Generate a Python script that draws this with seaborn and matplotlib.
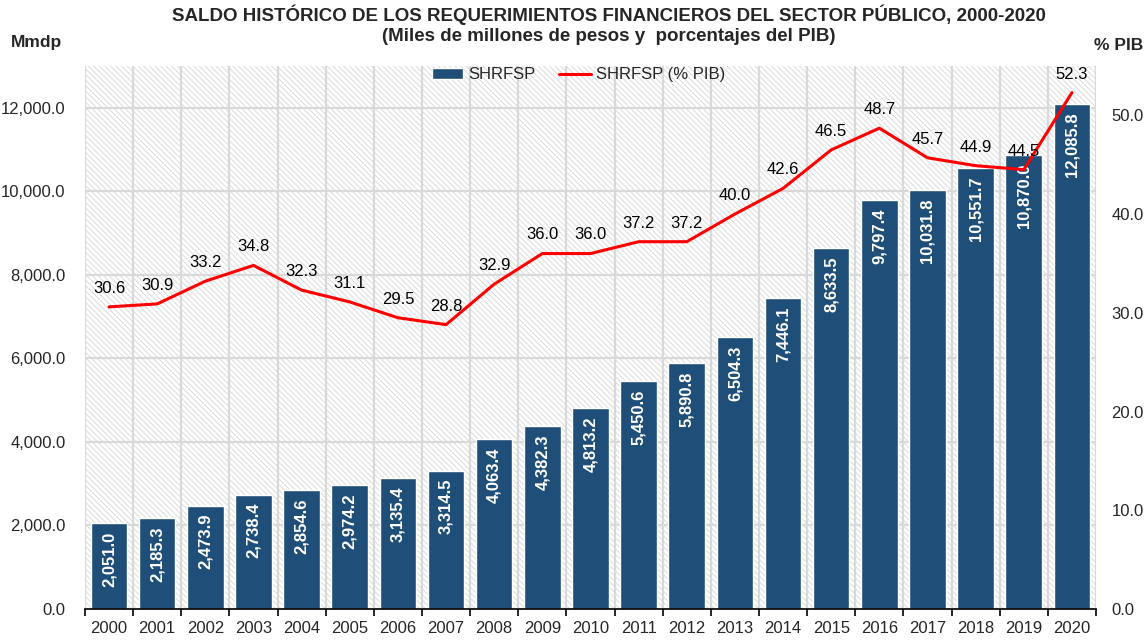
import numpy as np
import pandas as pd
import matplotlib
matplotlib.use("Agg")
import matplotlib.pyplot as plt
from matplotlib.patches import Rectangle
from matplotlib.ticker import FuncFormatter, FixedLocator
import seaborn as sns

years = ['2000', '2001', '2002', '2003', '2004', '2005', '2006', '2007', '2008', '2009', '2010',
         '2011', '2012', '2013', '2014', '2015', '2016', '2017', '2018', '2019', '2020']
shrfsp = [2051.0, 2185.3, 2473.9, 2738.4, 2854.6, 2974.2, 3135.4, 3314.5, 4063.4, 4382.3, 4813.2,
          5450.6, 5890.8, 6504.3, 7446.1, 8633.5, 9797.4, 10031.8, 10551.7, 10870.0, 12085.8]
pct_pib = [30.6, 30.9, 33.2, 34.8, 32.3, 31.1, 29.5, 28.8, 32.9, 36.0, 36.0,
           37.2, 37.2, 40.0, 42.6, 46.5, 48.7, 45.7, 44.9, 44.5, 52.3]

BAR = '#1F4E79'
GRID = '#D9D9D9'

df = pd.DataFrame({'Año': years, 'SHRFSP': shrfsp, 'PIB': pct_pib})
df['pos'] = np.arange(len(df))

sns.set_style('white')
plt.rcParams['font.family'] = ['Liberation Sans', 'DejaVu Sans']
plt.rcParams['hatch.linewidth'] = 0.6

fig = plt.figure(figsize=(11.48, 6.43), dpi=100)
ax = fig.add_axes([0.074, 0.0529, 0.8807, 0.8445])

# hatched plot background
ax.add_patch(Rectangle((0, 0), 1, 1, transform=ax.transAxes, facecolor='white',
                       edgecolor='#d6d6d6', hatch='\\\\\\\\\\\\', linewidth=0, zorder=0))

sns.barplot(data=df, x='Año', y='SHRFSP', color=BAR, saturation=1, width=0.76,
            ax=ax, zorder=2, label='SHRFSP', legend=False)

ax.set_xlim(-0.5, len(years) - 0.5)
ax.set_ylim(0, 13000)
ax.set_yticks(range(0, 12001, 2000))
ax.yaxis.set_major_formatter(FuncFormatter(lambda v, p: f'{v:,.1f}'))
ax.xaxis.set_minor_locator(FixedLocator(np.arange(-0.5, len(years), 1)))
ax.set_axisbelow(True)
ax.grid(True, axis='y', which='major', color=GRID, lw=1.6, zorder=0.5)
ax.grid(True, axis='x', which='minor', color=GRID, lw=1.6, zorder=0.5)
ax.grid(False, axis='x', which='major')
ax.set_xlabel('')
ax.set_ylabel('')
ax.tick_params(axis='x', which='major', length=0, pad=9, labelsize=12)
ax.tick_params(axis='x', which='minor', length=5, width=1.2, color='black', direction='out',
               bottom=True)
ax.tick_params(axis='y', length=0, pad=14, labelsize=12)
for s in ['left', 'right', 'top']:
    ax.spines[s].set_visible(False)
ax.spines['bottom'].set_color('black')
ax.spines['bottom'].set_linewidth(1.2)
ax.spines['bottom'].set_zorder(5)
if ax.get_legend():
    ax.get_legend().remove()

for i, v in enumerate(shrfsp):
    ax.annotate(f'{v:,.1f}', (i, v), xytext=(0, -6), textcoords='offset points',
                rotation=90, ha='center', va='top', color='white', fontsize=12,
                fontweight='bold', zorder=3)

ax2 = ax.twinx()
sns.lineplot(data=df, x='pos', y='PIB', color='red', lw=2.2, ax=ax2, label='SHRFSP (% PIB)')
ax2.set_ylim(0, 55)
ax2.set_yticks(range(0, 51, 10))
ax2.yaxis.set_major_formatter(FuncFormatter(lambda v, p: f'{v:.1f}'))
ax2.tick_params(axis='y', length=0, pad=11, labelsize=12)
ax2.set_ylabel('')
ax2.set_xlabel('')
for s in ax2.spines.values():
    s.set_visible(False)
for i, v in enumerate(pct_pib):
    ax2.annotate(f'{v:.1f}', (i, v), xytext=(0, 8), textcoords='offset points',
                 ha='center', va='bottom', fontsize=12, color='black')

h1, l1 = ax.get_legend_handles_labels()
h2, l2 = ax2.get_legend_handles_labels()
if ax2.get_legend():
    ax2.get_legend().remove()
ax2.legend(h1 + h2, l1 + l2, loc='upper center', bbox_to_anchor=(0.488, 1.025), ncol=2,
           frameon=False, fontsize=12, handlelength=1.9, handleheight=0.6,
           columnspacing=1.4, handletextpad=0.3)

fig.text(0.530, 0.977, 'SALDO HISTÓRICO DE LOS REQUERIMIENTOS FINANCIEROS DEL SECTOR PÚBLICO, 2000-2020',
         ha='center', va='center', fontsize=13.5, fontweight='bold')
fig.text(0.530, 0.944, '(Miles de millones de pesos y  porcentajes del PIB)',
         ha='center', va='center', fontsize=13.5, fontweight='bold')
fig.text(0.032, 0.934, 'Mmdp', ha='center', va='center', fontsize=12.5, fontweight='bold')
fig.text(0.974, 0.930, '% PIB', ha='center', va='center', fontsize=12.5, fontweight='bold')

fig.savefig('out.png', dpi=100)
